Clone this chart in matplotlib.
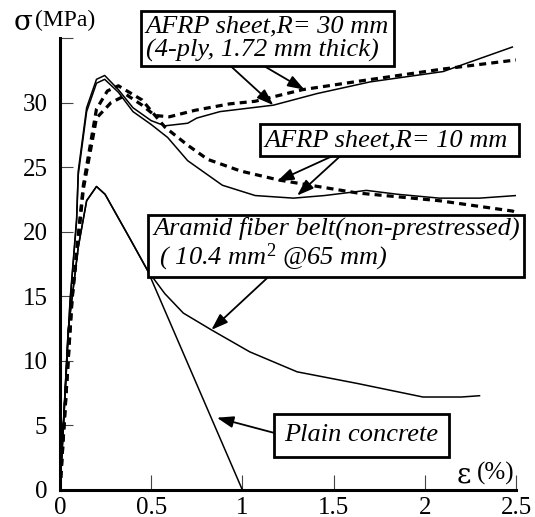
import matplotlib.pyplot as plt

# strain (%) / stress (MPa)
eps_r30_solid = [0, 0.055, 0.091, 0.10, 0.146, 0.20, 0.245, 0.32, 0.40, 0.50, 0.575, 0.70, 0.75,
                 0.877, 1.17, 1.41, 1.70, 2.10, 2.48]
sig_r30_solid = [0, 14.7, 21.0, 24.7, 29.6, 31.8, 32.1, 31.0, 29.6, 28.6, 28.2, 28.4, 28.8,
                 29.3, 29.8, 30.7, 31.6, 32.4, 34.3]

eps_r10_solid = [0, 0.055, 0.091, 0.10, 0.146, 0.20, 0.245, 0.32, 0.40, 0.50, 0.59, 0.70, 0.89,
                 1.07, 1.28, 1.45, 1.68, 1.85, 2.08, 2.30, 2.50]
sig_r10_solid = [0, 14.5, 20.8, 24.4, 29.3, 31.5, 31.8, 30.8, 29.3, 28.3, 27.3, 25.5, 23.6,
                 22.8, 22.6, 22.8, 23.2, 22.9, 22.6, 22.6, 22.8]

eps_r30_dash = [0, 0.066, 0.128, 0.20, 0.28, 0.365, 0.45, 0.52, 0.60, 0.74, 0.93, 1.07, 1.33,
                1.66, 2.10, 2.50]
sig_r30_dash = [0, 14.7, 23.3, 28.8, 30.0, 30.6, 29.8, 29.0, 28.9, 29.4, 29.9, 30.1, 31.0,
                31.7, 32.6, 33.3]

eps_r10_dash = [0, 0.066, 0.128, 0.20, 0.26, 0.32, 0.45, 0.575, 0.70, 0.81, 0.99, 1.20, 1.63,
                2.08, 2.48, 2.50]
sig_r10_dash = [0, 14.9, 23.6, 29.5, 30.9, 31.3, 30.2, 28.1, 26.7, 25.6, 24.7, 24.0, 23.0,
                22.4, 21.6, 21.5]

eps_belt = [0, 0.045, 0.10, 0.146, 0.20, 0.247, 0.39, 0.48, 0.575, 0.676, 0.83, 1.04, 1.30,
            1.63, 1.99, 2.20, 2.30]
sig_belt = [0, 12.4, 18.8, 22.4, 23.5, 22.9, 19.3, 17.0, 15.2, 13.7, 12.4, 10.7, 9.15,
            8.25, 7.2, 7.2, 7.3]

eps_plain = [0, 0.045, 0.10, 0.146, 0.20, 0.247, 0.39, 0.48, 1.0]
sig_plain = [0, 12.4, 18.8, 22.4, 23.5, 22.9, 19.3, 17.0, 0]

x_ticks = [0, 0.5, 1, 1.5, 2, 2.5]
x_labels = ["0", "0.5", "1", "1.5", "2", "2.5"]
y_ticks = [0, 5, 10, 15, 20, 25, 30, 35]
y_labels = ["0", "5", "10", "15", "20", "25", "30", ""]

plt.rcParams["font.family"] = "serif"
plt.rcParams["font.serif"] = ["Liberation Serif", "DejaVu Serif"]
plt.rcParams["mathtext.fontset"] = "custom"
plt.rcParams["mathtext.rm"] = "Liberation Serif"
plt.rcParams["mathtext.it"] = "Liberation Serif:italic"

fig = plt.figure(figsize=(5.35, 5.17), dpi=100)
ax = fig.add_axes([60 / 535, 27 / 517, 456 / 535, 452 / 517])

dash_style = dict(color="black", lw=2.3, linestyle=(0, (2.2, 1.6)))
ax.plot(eps_r30_solid, sig_r30_solid, color="black", lw=1.1)
ax.plot(eps_r10_solid, sig_r10_solid, color="black", lw=1.1)
ax.plot(eps_r30_dash, sig_r30_dash, **dash_style)
ax.plot(eps_r10_dash, sig_r10_dash, **dash_style)
ax.plot(eps_belt, sig_belt, color="black", lw=1.1)
ax.plot(eps_plain, sig_plain, color="black", lw=1.1)

ax.set_xlim(0, 2.5)
ax.set_ylim(0, 35)
ax.set_xticks(x_ticks)
ax.set_xticklabels(x_labels, fontsize=18)
ax.set_yticks(y_ticks)
ax.set_yticklabels(y_labels, fontsize=18)
ax.tick_params(axis="x", direction="in", length=11, width=0.8, color="#444", pad=5)
ax.tick_params(axis="y", direction="in", length=9, width=0.8, color="#444", pad=9)
for side in ["top", "right"]:
    ax.spines[side].set_visible(False)
for side in ["left", "bottom"]:
    ax.spines[side].set_linewidth(2.2)

# axis titles
fig.text(14 / 535, 1 - 22 / 517, "σ", fontfamily="DejaVu Serif", fontsize=20,
         ha="left", va="center")
fig.text(35 / 535, 1 - 20 / 517, "(MPa)", fontsize=17, ha="left", va="center")
fig.text(457 / 535, 1 - 475 / 517, "ε", fontfamily="DejaVu Serif", fontsize=20,
         ha="left", va="center")
fig.text(477 / 535, 1 - 473 / 517, "(%)", fontsize=18, ha="left", va="center")

# annotation boxes
box = dict(boxstyle="square,pad=0.18", facecolor="white", edgecolor="black", lw=2)
txt = dict(style="italic", fontsize=19, ha="left", va="center",
           bbox=box, linespacing=1.05, clip_on=False)
arrow = dict(arrowstyle="-|>,head_length=1.0,head_width=0.35", color="black", lw=1.3,
             shrinkA=0, shrinkB=0)


def point_to(xy, xytext):
    ax.annotate("", xy=xy, xytext=xytext, arrowprops=arrow, annotation_clip=False)


point_to((1.17, 29.8), (0.93, 32.9))
point_to((1.34, 31.0), (1.11, 32.9))
ax.text(0.47, 34.95, "AFRP sheet,R= 30 mm\n(4-ply, 1.72 mm thick)", **txt)

point_to((1.19, 23.9), (1.50, 25.9))
point_to((1.30, 22.8), (1.54, 25.9))
ax.text(1.12, 27.1, "AFRP sheet,R= 10 mm ", **txt)

point_to((0.83, 12.4), (1.15, 16.6))
ax.text(0.51, 19.0, "Aramid fiber belt(non-prestressed)\n ( 10.4 mm$^2$ @65 mm)", **txt)

point_to((0.86, 5.6), (1.18, 4.4))
box4 = dict(txt)
box4["bbox"] = dict(boxstyle="square,pad=0.4", facecolor="white", edgecolor="black", lw=2)
ax.text(1.23, 4.25, "Plain concrete", **box4)

fig.savefig("out.png", dpi=100)
